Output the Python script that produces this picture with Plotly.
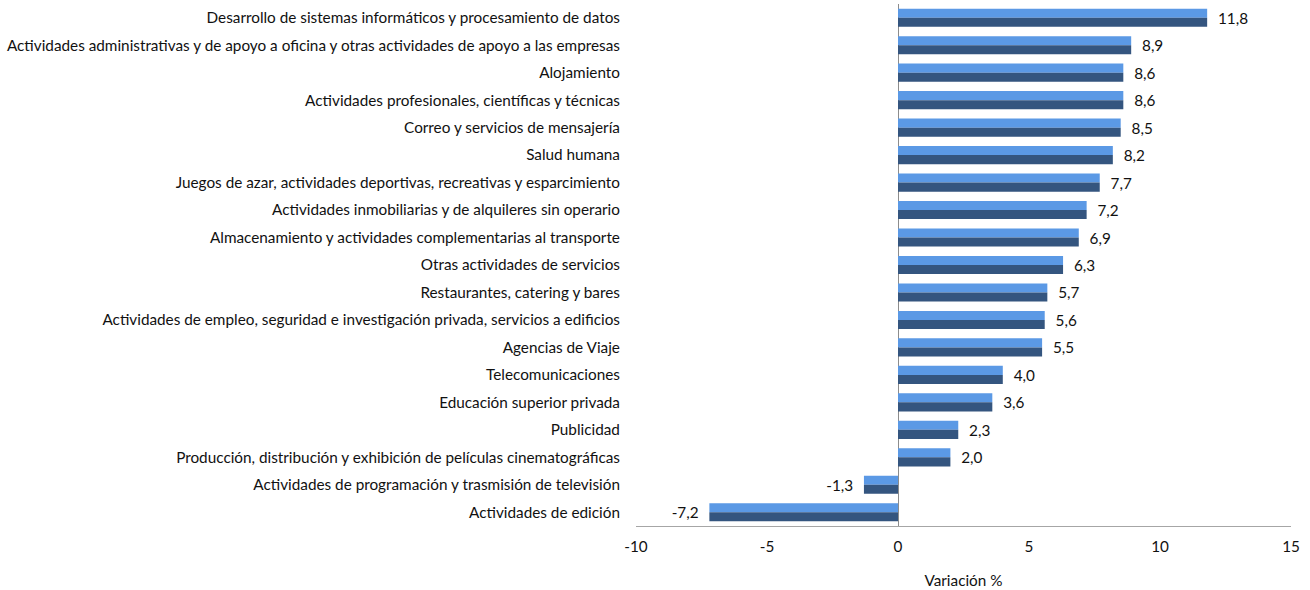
import plotly.graph_objects as go

categories = [
    "Desarrollo de sistemas informáticos y procesamiento de datos",
    "Actividades administrativas y de apoyo a oficina y otras actividades de apoyo a las empresas",
    "Alojamiento",
    "Actividades profesionales, científicas y técnicas",
    "Correo y servicios de mensajería",
    "Salud humana",
    "Juegos de azar, actividades deportivas, recreativas y esparcimiento",
    "Actividades inmobiliarias y de alquileres sin operario",
    "Almacenamiento y actividades complementarias al transporte",
    "Otras actividades de servicios",
    "Restaurantes, catering y bares",
    "Actividades de empleo, seguridad e investigación privada, servicios a edificios",
    "Agencias de Viaje",
    "Telecomunicaciones",
    "Educación superior privada",
    "Publicidad",
    "Producción, distribución y exhibición de películas cinematográficas",
    "Actividades de programación y trasmisión de televisión",
    "Actividades de edición",
]
values = [11.8, 8.9, 8.6, 8.6, 8.5, 8.2, 7.7, 7.2, 6.9, 6.3, 5.7, 5.6, 5.5, 4.0, 3.6, 2.3, 2.0, -1.3, -7.2]
x_ticks = [-10, -5, 0, 5, 10, 15]

FONT = "Lato"
FS = 15.3
LIGHT = "#5B99E5"
DARK = "#34557F"
BW = 0.66
NB = "\u00a0"

labels = []
for v in values:
    s = f"{v:.1f}".replace(".", ",")
    labels.append(NB * 2 + s if v >= 0 else s + NB * 2)

fig = go.Figure()
fig.add_trace(go.Bar(
    x=values, y=categories, orientation="h", width=BW / 2, offset=-BW / 2,
    marker=dict(color=LIGHT, line=dict(width=0)), hoverinfo="skip", showlegend=False,
))
fig.add_trace(go.Bar(
    x=values, y=categories, orientation="h", width=BW / 2, offset=0,
    marker=dict(color=DARK, line=dict(width=0)), hoverinfo="skip", showlegend=False,
))
fig.add_trace(go.Bar(
    x=values, y=categories, orientation="h", width=BW,
    marker=dict(color="rgba(0,0,0,0)", line=dict(width=0)),
    text=labels, textposition="outside", cliponaxis=False,
    textfont=dict(family=FONT, size=FS, color="#111111"),
    showlegend=False,
))

fig.update_layout(
    width=1310, height=590,
    barmode="overlay",
    paper_bgcolor="white", plot_bgcolor="white",
    margin=dict(l=636, r=19, t=4, b=64),
    font=dict(family=FONT, size=FS, color="#111111"),
    xaxis=dict(
        range=[-10, 15], tickvals=x_ticks, ticktext=[str(t) for t in x_ticks],
        showgrid=False, zeroline=True, zerolinecolor="#8c8c8c", zerolinewidth=1,
        showline=True, linecolor="#a6a6a6", linewidth=1,
        ticks="outside", ticklen=7, tickcolor="rgba(0,0,0,0)",
        title=dict(text="Variación %", standoff=20, font=dict(family=FONT, size=FS)),
        fixedrange=True,
    ),
    yaxis=dict(
        autorange="reversed", showgrid=False, showline=False, zeroline=False,
        ticks="outside", ticklen=12, tickcolor="rgba(0,0,0,0)",
        fixedrange=True,
    ),
)

fig.write_html("out.html", config={"displayModeBar": False},
               post_script="document.body.style.margin='0';")
